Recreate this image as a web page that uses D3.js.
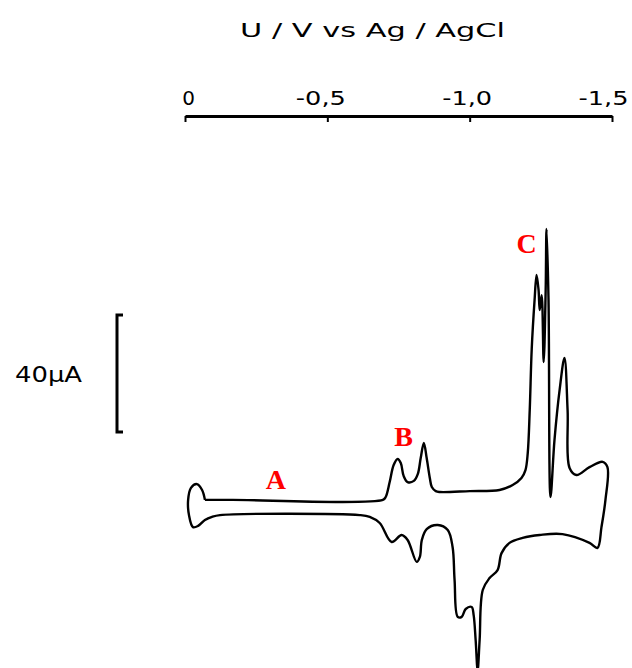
<!DOCTYPE html>
<html>
<head>
<meta charset="utf-8">
<script src="https://cdn.jsdelivr.net/npm/d3@7"></script>
<style>
	body { margin: 0; background: #fff; }
	svg { display: block; }
	.tick text, .title, .bar-label { font-family: "DejaVu Sans", sans-serif; fill: #000; }
	.peak { font-family: "Liberation Serif", serif; font-weight: bold; fill: #f00; }
</style>
</head>
<body>
<div id="chart"></div>
<script>
// cyclic voltammogram, traced once round the loop
// potential in V vs Ag/AgCl, current in µA
var potential = [
	-0.070, -0.168, -0.695, -0.705, -0.719, -0.733, -0.747, -0.758, -0.768, -0.782,
	-0.804, -0.818, -0.828, -0.839, -0.849, -0.860, -0.867, -0.881, -0.895, -1.000,
	-1.105, -1.151, -1.182, -1.196, -1.204, -1.211, -1.218, -1.228, -1.235, -1.242,
	-1.246, -1.253, -1.260, -1.267, -1.270, -1.277, -1.284, -1.298, -1.316, -1.333,
	-1.344, -1.351, -1.375, -1.421, -1.467, -1.484, -1.477, -1.463, -1.449,
	-1.421, -1.326, -1.246, -1.186, -1.140, -1.112, -1.098, -1.070, -1.046, -1.035,
	-1.028, -1.021, -1.014, -1.007, -0.986, -0.972, -0.958, -0.947, -0.940, -0.923,
	-0.888, -0.849, -0.832, -0.825, -0.814, -0.782, -0.761, -0.726, -0.684, -0.649,
	-0.614, -0.123, -0.095, -0.070, -0.046, -0.028, -0.014, -0.011, -0.021, -0.042,
	-0.060, -0.070
];
var current = [
	2.6, 2.6, 2.6, 3.6, 8.7, 14.5, 16.6, 15.2, 10.8, 8.7,
	9.1, 11.5, 16.9, 22.1, 16.9, 10.1, 7.0, 5.6, 5.3, 5.6,
	6.0, 7.7, 10.1, 12.8, 18.6, 33.3, 54.2, 70.9, 79.5, 74.4,
	67.5, 72.6, 49.7, 74.4, 95.2, 70.9, 3.6, 23.1, 40.2, 51.1,
	33.3, 13.5, 11.1, 13.8, 15.6, 13.8, 2.6, -6.7, -13.8,
	-12.1, -9.1, -9.4, -10.4, -12.1, -15.6, -21.4, -24.1, -28.2, -45.3,
	-55.6, -45.3, -36.8, -34.0, -34.7, -37.4, -37.4, -24.8, -13.5, -7.7,
	-6.0, -7.4, -11.1, -16.9, -18.6, -11.1, -9.4, -11.8, -5.3, -3.2,
	-2.6, -2.6, -3.2, -4.3, -6.3, -6.7, -2.6, 2.6, 6.7, 8.0,
	6.0, 2.6
];
var potentialTicks = [0, -0.5, -1.0, -1.5];
var axisTitle = "U / V vs  Ag / AgCl";

var peakNames = ["A", "B", "C"];
var peakPotential = [-0.319, -0.768, -1.200];
var peakCurrent = [6.3, 21.0, 87.0];

var scaleBarCurrent = [25.8, 65.8];
var scaleBarLabel = "40µA";

var width = 632;
var height = 668;

var svg = d3.select("#chart").append("svg")
	.attr("width", width)
	.attr("height", height);

var x = d3.scaleLinear().domain([0, -1.5]).range([185, 612]);
var y = d3.scaleLinear().domain([0, 40]).range([507.5, 390.5]);

var locale = d3.formatLocale({decimal: ",", thousands: ".", grouping: [3], currency: ["", ""], minus: "-"});
var fmt = locale.format(".1f");

// potential axis on top
var axis = d3.axisTop(x)
	.tickValues(potentialTicks)
	.tickSizeInner(-6)
	.tickSizeOuter(0)
	.tickPadding(11)
	.tickFormat(function(d) { return d == 0 ? "0" : fmt(d); });

var gAxis = svg.append("g")
	.attr("transform", "translate(0,116)")
	.call(axis);
gAxis.select(".domain").attr("stroke", "#000").attr("stroke-width", 3);
gAxis.selectAll(".tick line").attr("stroke", "#000").attr("stroke-width", 2);

// the labels sit a little off their ticks in the original
var labelShift = [3, -7, -3, -9];
gAxis.selectAll(".tick text")
	.attr("font-size", 20)
	.attr("x", function(d, i) { return labelShift[i]; })
	.attr("textLength", function(d) { return d == 0 ? null : 50; })
	.attr("lengthAdjust", "spacingAndGlyphs");

svg.append("text")
	.classed("title", true)
	.attr("x", 240)
	.attr("y", 37)
	.attr("font-size", 20)
	.attr("textLength", 265)
	.attr("lengthAdjust", "spacingAndGlyphs")
	.text(axisTitle);

// current scale bar
var barX = 117;
var bar = svg.append("g").attr("stroke", "#000").attr("stroke-width", 3).attr("fill", "none");
bar.append("path")
	.attr("d", "M" + (barX + 6) + "," + y(scaleBarCurrent[1]) + "H" + barX +
		"V" + y(scaleBarCurrent[0]) + "H" + (barX + 6));

svg.append("text")
	.classed("bar-label", true)
	.attr("x", 15)
	.attr("y", (y(scaleBarCurrent[0]) + y(scaleBarCurrent[1])) / 2 + 8)
	.attr("font-size", 21)
	.attr("textLength", 67)
	.attr("lengthAdjust", "spacingAndGlyphs")
	.text(scaleBarLabel);

// the voltammogram
var line = d3.line()
	.curve(d3.curveCatmullRom.alpha(0.5))
	.x(function(d) { return x(d[0]); })
	.y(function(d) { return y(d[1]); });

svg.append("path")
	.datum(d3.zip(potential, current))
	.attr("d", line)
	.attr("fill", "none")
	.attr("stroke", "#000")
	.attr("stroke-width", 2.4)
	.attr("stroke-linejoin", "round");

svg.selectAll(".peak")
	.data(peakNames)
	.enter()
	.append("text")
	.classed("peak", true)
	.attr("x", function(d, i) { return x(peakPotential[i]); })
	.attr("y", function(d, i) { return y(peakCurrent[i]); })
	.attr("text-anchor", "middle")
	.attr("font-size", 28)
	.text(function(d) { return d; });
</script>
</body>
</html>
